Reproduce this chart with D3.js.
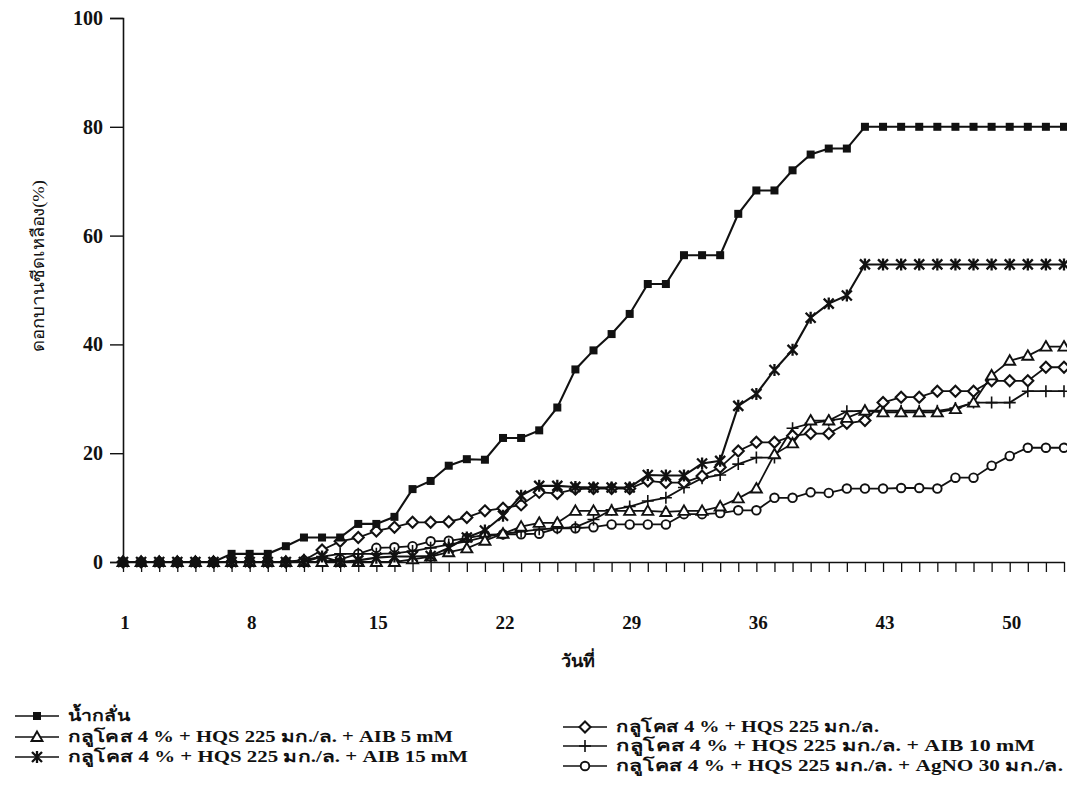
<!DOCTYPE html>
<html>
<head>
<meta charset="utf-8">
<script src="https://cdn.jsdelivr.net/npm/d3@7"></script>
<style>
  body { margin: 0; background: #fff; }
  svg text { font-family: "Liberation Serif", "Times New Roman", serif; fill: #111; }
</style>
</head>
<body>
<div id="chart"></div>
<script>
// days after treatment
const days = [1,2,3,4,5,6,7,8,9,10,11,12,13,14,15,16,17,18,19,20,21,22,23,24,25,26,27,
  28,29,30,31,32,33,34,35,36,37,38,39,40,41,42,43,44,45,46,47,48,49,50,51,52,53];
const xTickDays = [1, 8, 15, 22, 29, 36, 43, 50];
const yTicks = [0, 20, 40, 60, 80, 100];

// % of flowers yellowed, per series
const water = [0,0,0,0,0,0,1.5,1.5,1.5,2.9,4.5,4.5,4.5,7.0,7.0,8.3,13.4,14.9,17.7,18.9,
  18.8,22.8,22.8,24.2,28.4,35.4,38.9,41.9,45.6,51.1,51.1,56.4,56.4,56.4,64.0,68.3,68.3,
  72.0,74.9,76.0,76.0,80,80,80,80,80,80,80,80,80,80,80,80];
const hqs = [0,0,0,0,0,0,0,0,0,0,0.3,2.2,3.8,4.5,5.7,6.4,7.3,7.3,7.4,8.2,
  9.4,9.9,10.5,12.8,12.6,13.4,13.5,13.5,13.5,14.9,14.6,14.6,15.8,17.4,20.4,22.0,22.0,
  23.2,23.6,23.6,25.5,26.0,29.3,30.3,30.3,31.4,31.4,31.4,33.3,33.3,33.3,35.8,35.8];
const aib5 = [0,0,0,0,0,0,0,0,0,0,0,0,0,0,0,0,0.5,1.0,1.8,2.5,
  3.9,5.2,6.5,7.2,7.2,9.4,9.4,9.4,9.4,9.4,9.2,9.4,9.4,10.2,11.7,13.5,19.8,
  21.8,26.0,26.0,26.5,27.8,27.5,27.5,27.5,27.5,28.1,29.3,34.3,37.0,37.9,39.6,39.6];
const aib10 = [0,0,0,0,0,0,0,0,0,0,0.4,1.0,1.5,1.5,1.5,1.6,2.0,2.6,3.2,3.8,
  4.6,5.2,5.6,6.0,6.2,6.4,7.8,9.6,10.2,11.2,11.8,13.7,15.4,16.0,18.0,19.2,19.2,
  24.6,25.5,26.0,27.7,27.8,27.8,27.8,27.8,27.8,28.3,29.3,29.3,29.3,31.4,31.4,31.4];
const aib15 = [0,0,0,0,0,0,0,0,0,0,0,1.0,0,0.3,0.8,1.0,1.0,1.1,2.6,4.5,
  5.8,8.5,12.2,14.0,14.0,13.8,13.7,13.7,13.7,16.0,15.9,15.9,18.1,18.6,28.7,30.9,35.3,
  39.0,44.9,47.5,49.0,54.7,54.7,54.7,54.7,54.7,54.7,54.7,54.7,54.7,54.7,54.7,54.7];
const agno = [0,0,0,0,0,0,0,0,0,0,0,0,0.5,1.5,2.6,2.7,2.9,3.8,3.9,4.4,
  5.0,5.1,5.1,5.2,6.2,6.2,6.4,6.9,6.9,6.9,6.9,8.8,8.8,9.0,9.5,9.5,11.8,
  11.8,12.8,12.7,13.5,13.5,13.5,13.6,13.6,13.5,15.5,15.5,17.7,19.5,21.0,21.0,21.0];

const seriesNames = [
  'น้ำกลั่น',
  'กลูโคส 4 % + HQS 225 มก./ล. + AIB 5 mM',
  'กลูโคส 4 % + HQS 225 มก./ล. + AIB 15 mM',
  'กลูโคส 4 % + HQS 225 มก./ล.',
  'กลูโคส 4 % + HQS 225 มก./ล. + AIB 10 mM',
  'กลูโคส 4 % + HQS 225 มก./ล. + AgNO 30 มก./ล.'
];
const seriesValues = [water, aib5, aib15, hqs, aib10, agno];
const seriesMarkers = ['square', 'triangle', 'asterisk', 'diamond', 'plus', 'circle'];

// legend layout: [line start x, row y, text width]
const legendLayout = [
  [15, 716, 62], [15, 737, 385], [15, 757, 400],
  [563, 727, 263], [563, 746, 419], [563, 766, 447]
];

let width = 1067;
let height = 787;

let svg = d3.select('#chart')
  .append('svg')
  .attr('width', width)
  .attr('height', height);

let x = d3.scaleLinear().domain([1, 53]).range([123, 1064]);
let y = d3.scaleLinear().domain([0, 100]).range([562, 18]);

// y axis
let yAxis = svg.append('g')
  .attr('transform', 'translate(123,0)')
  .call(d3.axisLeft(y).tickValues(yTicks).tickSize(13).tickPadding(7).tickFormat(d3.format('d')));
yAxis.select('.domain').attr('stroke', '#111').attr('stroke-width', 1.6);
yAxis.selectAll('.tick line').attr('stroke', '#111').attr('stroke-width', 1.4);
yAxis.selectAll('.tick text')
  .attr('font-size', 20).attr('font-weight', 'bold')
  .attr('font-family', '"Liberation Serif", serif').attr('fill', '#111');

// x axis: a tick every day, labels every week
let xAxis = svg.append('g')
  .attr('transform', 'translate(0,562)')
  .call(d3.axisBottom(x).tickValues(days).tickSize(10).tickSizeOuter(0).tickFormat(''));
xAxis.select('.domain').attr('stroke', '#111').attr('stroke-width', 1.6);
xAxis.selectAll('.tick line').attr('stroke', '#111').attr('stroke-width', 1.3);

svg.append('g').selectAll('text')
  .data(xTickDays)
  .enter()
  .append('text')
  .attr('x', d => x(d) + 2)
  .attr('y', 629)
  .attr('text-anchor', 'middle')
  .attr('font-size', 19)
  .attr('font-weight', 'bold')
  .text(d => d);

// axis titles
svg.append('text')
  .attr('x', 578).attr('y', 667)
  .attr('text-anchor', 'middle')
  .attr('font-size', 18).attr('font-weight', 'bold')
  .text('วันที่');

svg.append('text')
  .attr('transform', 'translate(44,266) rotate(-90)')
  .attr('text-anchor', 'middle')
  .attr('font-size', 17)
  .attr('textLength', 172)
  .attr('lengthAdjust', 'spacingAndGlyphs')
  .text('ดอกบานซีดเหลือง(%)');

// marker drawing
function drawMarker(g, type, cx, cy) {
  if (type === 'square') {
    g.append('rect').attr('x', cx - 4).attr('y', cy - 4).attr('width', 8).attr('height', 8)
      .attr('fill', '#111');
  } else if (type === 'triangle') {
    g.append('path').attr('d', `M${cx},${cy - 5.5}L${cx + 5.5},${cy + 4}L${cx - 5.5},${cy + 4}Z`)
      .attr('fill', '#fff').attr('stroke', '#111').attr('stroke-width', 1.9);
  } else if (type === 'diamond') {
    g.append('path').attr('d', `M${cx},${cy - 5.5}L${cx + 5.5},${cy}L${cx},${cy + 5.5}L${cx - 5.5},${cy}Z`)
      .attr('fill', '#fff').attr('stroke', '#111').attr('stroke-width', 2.1);
  } else if (type === 'circle') {
    g.append('circle').attr('cx', cx).attr('cy', cy).attr('r', 4.3)
      .attr('fill', '#fff').attr('stroke', '#111').attr('stroke-width', 1.9);
  } else if (type === 'plus') {
    g.append('path').attr('d', `M${cx - 6},${cy}H${cx + 6}M${cx},${cy - 6}V${cy + 6}`)
      .attr('fill', 'none').attr('stroke', '#111').attr('stroke-width', 1.6);
  } else if (type === 'asterisk') {
    g.append('path').attr('d', `M${cx - 5},${cy - 5}L${cx + 5},${cy + 5}M${cx + 5},${cy - 5}L${cx - 5},${cy + 5}M${cx},${cy - 6}V${cy + 6}`)
      .attr('fill', 'none').attr('stroke', '#111').attr('stroke-width', 2.3);
  }
}

let line = d3.line()
  .x((d, i) => x(days[i]))
  .y(d => y(d));

// draw series (water last so it sits on top like the original)
let order = [5, 4, 3, 1, 2, 0];
order.forEach(function(k) {
  let g = svg.append('g');
  g.append('path')
    .attr('d', line(seriesValues[k]))
    .attr('fill', 'none')
    .attr('stroke', '#111')
    .attr('stroke-width', k === 0 || k === 2 ? 2.1 : 1.8);
  seriesValues[k].forEach(function(v, i) {
    drawMarker(g, seriesMarkers[k], x(days[i]), y(v));
  });
});

// legend
seriesNames.forEach(function(name, k) {
  let lx = legendLayout[k][0], ly = legendLayout[k][1];
  let g = svg.append('g');
  g.append('line')
    .attr('x1', lx).attr('x2', lx + 44)
    .attr('y1', ly).attr('y2', ly)
    .attr('stroke', '#111').attr('stroke-width', 1.6);
  drawMarker(g, seriesMarkers[k], lx + 22, ly);
  g.append('text')
    .attr('x', lx + 53).attr('y', ly + 5)
    .attr('font-size', 16)
    .attr('font-weight', 'bold')
    .attr('textLength', legendLayout[k][2])
    .attr('lengthAdjust', 'spacingAndGlyphs')
    .text(name);
});
</script>
</body>
</html>
